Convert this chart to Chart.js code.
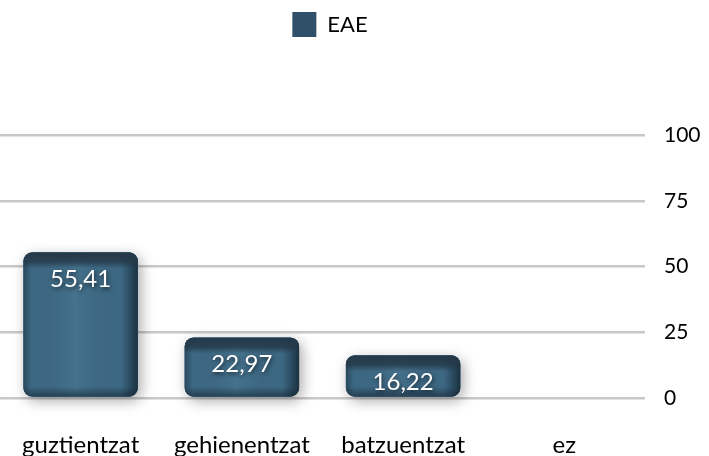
<!DOCTYPE html>
<html>
<head>
<meta charset="utf-8">
<script src="https://cdn.jsdelivr.net/npm/chart.js@4.4.1/dist/chart.umd.min.js"></script>
<style>
  html, body { margin: 0; padding: 0; background: #ffffff; }
  #wrap { width: 709px; height: 456px; position: relative; }
</style>
</head>
<body>
<div id="wrap"><canvas id="c" width="709" height="456"></canvas></div>
<script>
// Response categories and the EAE share (%) for each
const categories = ['guztientzat', 'gehienentzat', 'batzuentzat', 'ez'];
const seriesName = 'EAE';
const eaeValues = [55.41, 22.97, 16.22, 0];
const yTicks = [0, 25, 50, 75, 100];

const FONT = 'Lato, "Open Sans", sans-serif';
const BAR_COLOR = '#3d6883';

// Leaves room between the legend and the plot, and nudges the legend a bit left
const legendSpacer = {
  id: 'legendSpacer',
  beforeInit(chart) {
    const origFit = chart.legend.fit;
    chart.legend.fit = function () {
      origFit.call(this);
      this.height = 135;
    };
  },
  afterLayout(chart) {
    chart.legend.left -= 21;
    chart.legend.right -= 21;
  }
};

// Gives each bar a rounded, lit look: dark edges, light middle, dark top face
const barShading = {
  id: 'barShading',
  beforeDatasetsDraw(chart) {
    const ctx = chart.ctx;
    chart.getDatasetMeta(0).data.forEach((bar, i) => {
      if (!eaeValues[i]) return;
      const w = bar.width, left = bar.x - w / 2, top = bar.y, h = bar.base - bar.y;
      ctx.save();
      ctx.shadowColor = 'rgba(0,0,0,0.35)';
      ctx.shadowBlur = 14;
      ctx.shadowOffsetX = 3;
      ctx.shadowOffsetY = 4;
      ctx.fillStyle = '#2e4d63';
      ctx.beginPath();
      ctx.roundRect(left, top, w, h, 9);
      ctx.fill();
      ctx.restore();
    });
  },
  afterDatasetsDraw(chart) {
    const ctx = chart.ctx;
    chart.getDatasetMeta(0).data.forEach((bar, i) => {
      if (!eaeValues[i]) return;
      const w = bar.width, left = bar.x - w / 2, top = bar.y, h = bar.base - bar.y;
      ctx.save();
      ctx.beginPath();
      ctx.roundRect(left, top, w, h, 9);
      ctx.clip();
      const g = ctx.createLinearGradient(left, 0, left + w, 0);
      g.addColorStop(0, 'rgba(20,40,55,0.5)');
      g.addColorStop(0.07, 'rgba(20,40,55,0.0)');
      g.addColorStop(0.45, 'rgba(120,170,200,0.15)');
      g.addColorStop(0.85, 'rgba(20,40,55,0.0)');
      g.addColorStop(1, 'rgba(15,30,42,0.75)');
      ctx.fillStyle = g;
      ctx.fillRect(left, top, w, h);
      // top face
      const tg = ctx.createLinearGradient(0, top, 0, top + 16);
      tg.addColorStop(0, 'rgba(36,56,72,1)');
      tg.addColorStop(0.6, 'rgba(36,56,72,0.8)');
      tg.addColorStop(1, 'rgba(36,56,72,0)');
      ctx.fillStyle = tg;
      ctx.fillRect(left, top, w, 16);
      // bottom edge
      const bg = ctx.createLinearGradient(0, bar.base - 10, 0, bar.base);
      bg.addColorStop(0, 'rgba(20,35,48,0)');
      bg.addColorStop(1, 'rgba(20,35,48,0.6)');
      ctx.fillStyle = bg;
      ctx.fillRect(left, bar.base - 10, w, 10);
      ctx.restore();

      // value label
      ctx.save();
      ctx.font = '24px ' + FONT;
      ctx.fillStyle = '#ffffff';
      ctx.textAlign = 'center';
      ctx.textBaseline = 'middle';
      ctx.shadowColor = 'rgba(0,0,0,0.6)';
      ctx.shadowBlur = 4;
      ctx.shadowOffsetX = 1;
      ctx.shadowOffsetY = 2;
      ctx.fillText(eaeValues[i].toFixed(2).replace('.', ','), bar.x, top + 27);
      ctx.restore();
    });
  }
};

function fixAxisSize(scale, size) {
  if (scale.isHorizontal()) scale.height = size; else scale.width = size;
  scale.paddingLeft = scale.paddingRight = scale.paddingTop = scale.paddingBottom = 0;
}

new Chart(document.getElementById('c'), {
  type: 'bar',
  data: {
    labels: categories,
    datasets: [{
      label: seriesName,
      data: eaeValues,
      backgroundColor: BAR_COLOR,
      borderRadius: 9,
      borderSkipped: false,
      barPercentage: 0.71,
      categoryPercentage: 1.0
    }]
  },
  options: {
    responsive: false,
    animation: false,
    layout: { padding: { left: -5, right: 2, top: 0, bottom: 0 } },
    plugins: {
      legend: {
        display: true,
        position: 'top',
        labels: {
          boxWidth: 24, boxHeight: 25, padding: 12,
          color: '#000000',
          font: { family: FONT, size: 22 },
          generateLabels: () => [{
            text: seriesName, fillStyle: '#2f5068', strokeStyle: '#2f5068', lineWidth: 0
          }]
        }
      },
      tooltip: { enabled: false }
    },
    scales: {
      x: {
        grid: { display: false, drawTicks: false },
        border: { display: false },
        ticks: { color: '#000000', font: { family: FONT, size: 24 }, padding: 33, maxRotation: 0 },
        afterFit: (s) => fixAxisSize(s, 58)
      },
      y: {
        position: 'right',
        min: 0, max: 100,
        afterBuildTicks: (s) => { s.ticks = yTicks.map(v => ({ value: v })); },
        grid: { color: '#c8c8c8', lineWidth: 2.5, drawTicks: false },
        border: { display: false },
        ticks: { color: '#000000', font: { family: FONT, size: 21 }, padding: 19 },
        afterFit: (s) => fixAxisSize(s, 62)
      }
    }
  },
  plugins: [legendSpacer, barShading]
});
</script>
</body>
</html>
